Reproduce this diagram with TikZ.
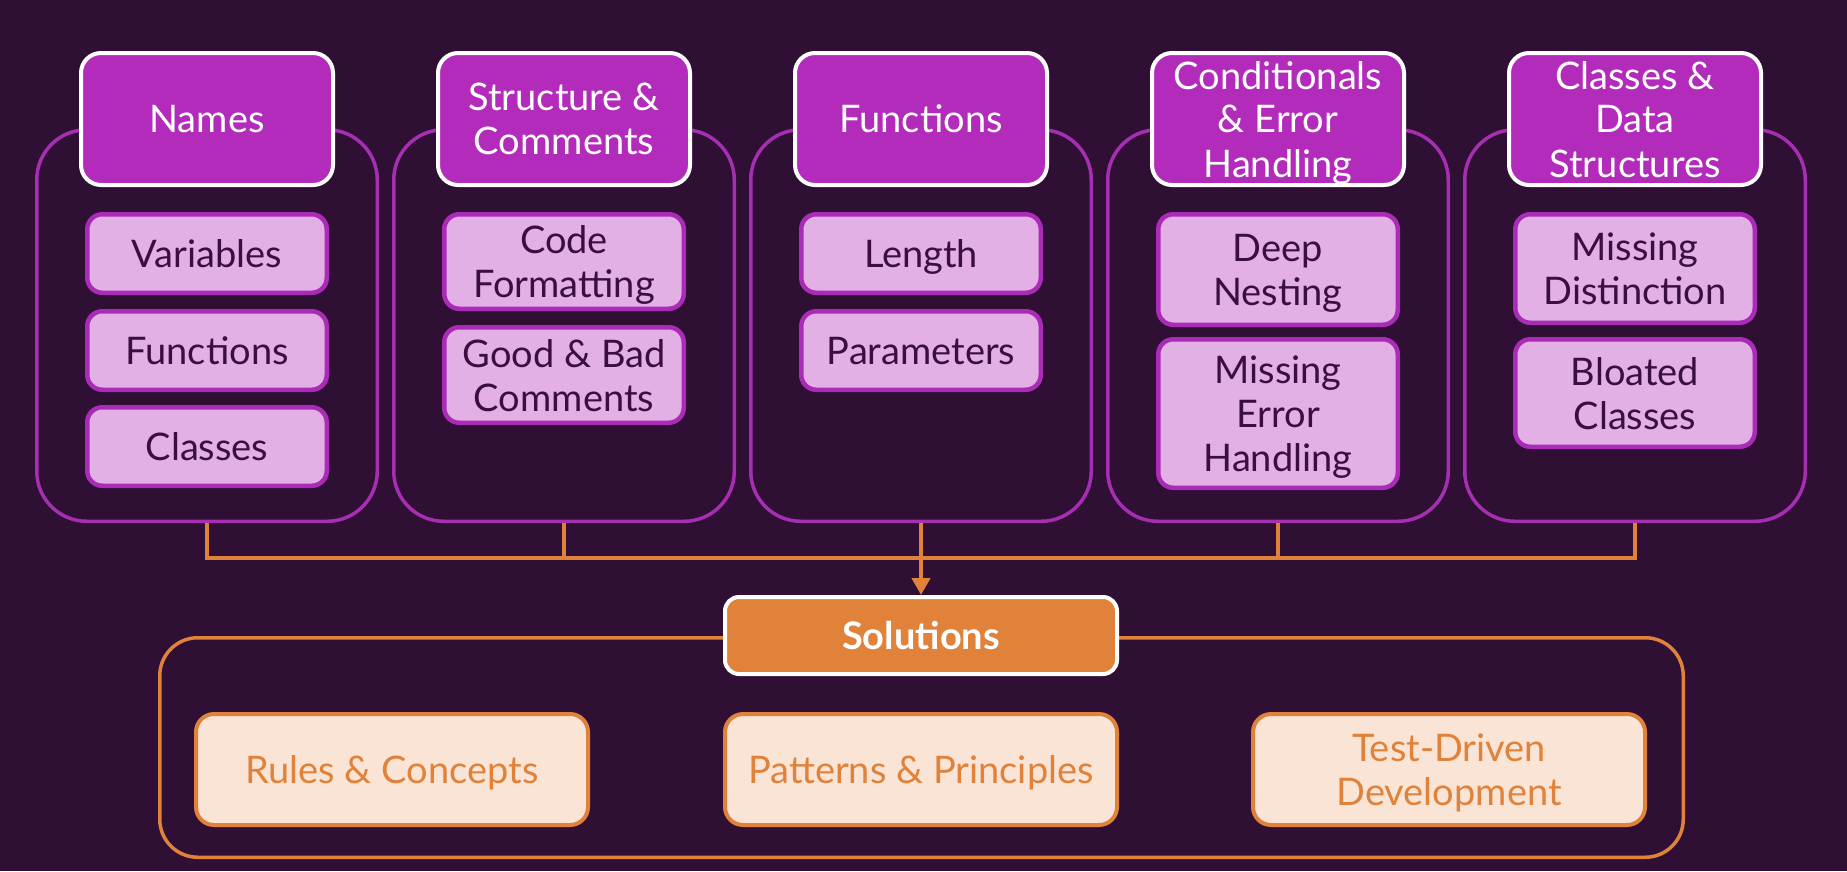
\documentclass[tikz,border=0pt]{standalone}
\usepackage{fontspec}
\setmainfont{Lato}
\usetikzlibrary{arrows.meta}

\definecolor{bg}{HTML}{2F0F34}
\definecolor{hdrfill}{HTML}{B22BBA}
\definecolor{grpline}{HTML}{A52EB3}
\definecolor{itemfill}{HTML}{E2B0E4}
\definecolor{itemline}{HTML}{A92BB8}
\definecolor{itemtext}{HTML}{3A0E40}
\definecolor{accent}{HTML}{E0823A}
\definecolor{softfill}{HTML}{FAE4D6}

\tikzset{
  lbl/.style={font=\fontsize{38}{44}\selectfont, align=center, inner sep=0pt, text depth=0pt},
  grp/.style={draw=grpline, line width=3.5pt, fill=bg, rounded corners=50pt,
    minimum width=340.5pt, minimum height=391.5pt, inner sep=0pt},
  hdr/.style={lbl, fill=hdrfill, draw=white, line width=4pt, rounded corners=20pt,
    minimum width=252pt, minimum height=132pt, text=white},
  item/.style={lbl, fill=itemfill, draw=itemline, line width=4.5pt, rounded corners=15pt,
    minimum width=239.5pt, text=itemtext},
  bus/.style={draw=accent, line width=4.5pt},
  solframe/.style={draw=accent, line width=3.5pt, fill=bg, rounded corners=38pt,
    minimum width=1523.5pt, minimum height=219.5pt, inner sep=0pt},
  solhead/.style={lbl, fill=accent, draw=white, line width=4pt, rounded corners=14pt,
    minimum width=392pt, minimum height=77pt, text=white, font=\fontsize{38}{44}\selectfont\bfseries},
  soft/.style={lbl, fill=softfill, draw=accent, line width=4pt, rounded corners=18pt,
    minimum width=392pt, minimum height=111pt, text=accent},
}

\begin{document}
\begin{tikzpicture}[x=1pt, y=-1pt]
  \useasboundingbox (0,0) rectangle (1847,871);
  \fill[bg] (0,0) rectangle (1847,871);

  % group frames
  \node[grp] (g1) at (207,325.5) {};
  \node[grp] (g2) at (564,325.5) {};
  \node[grp] (g3) at (921,325.5) {};
  \node[grp] (g4) at (1278,325.5) {};
  \node[grp] (g5) at (1635,325.5) {};

  % group headers
  \node[hdr] (h1) at (207,119) {Names};
  \node[hdr] (h2) at (564,119) {Structure \&\\Comments};
  \node[hdr] (h3) at (921,119) {Functions};
  \node[hdr] (h4) at (1278,119) {Conditionals\\\& Error\\Handling};
  \node[hdr] (h5) at (1635,119) {Classes \&\\Data\\Structures};

  % Names
  \node[item, minimum height=78.5pt] (n1) at (207,253.5) {Variables};
  \node[item, minimum height=78.5pt] (n2) at (207,350.5) {Functions};
  \node[item, minimum height=78.5pt] (n3) at (207,446.5) {Classes};

  % Structure & Comments
  \node[item, minimum height=94.5pt] (s1) at (564,261.5) {Code\\Formatting};
  \node[item, minimum height=95.5pt] (s2) at (564,375) {Good \& Bad\\Comments};

  % Functions
  \node[item, minimum height=78.5pt] (f1) at (921,253.5) {Length};
  \node[item, minimum height=78.5pt] (f2) at (921,350.5) {Parameters};

  % Conditionals & Error Handling
  \node[item, minimum height=110.5pt] (c1) at (1278,269.5) {Deep\\Nesting};
  \node[item, minimum height=148.5pt] (c2) at (1278,413.5) {Missing\\Error\\Handling};

  % Classes & Data Structures
  \node[item, minimum height=108.5pt] (d1) at (1635,268.5) {Missing\\Distinction};
  \node[item, minimum height=107.5pt] (d2) at (1635,393) {Bloated\\Classes};

  % solutions frame and boxes
  \node[solframe] (sf) at (921.5,747.5) {};
  \node[solhead] (sol) at (921,635.5) {Solutions};
  \node[soft] (r1) at (392,769.5) {Rules \& Concepts};
  \node[soft] (r2) at (921,769.5) {Patterns \& Principles};
  \node[soft] (r3) at (1449,769.5) {Test-Driven\\Development};

  % collecting bus
  \coordinate (busy) at (0,558);
  \draw[bus] (g1.south) -- (g1.south |- busy) -- (g5.south |- busy) -- (g5.south);
  \draw[bus] (g2.south) -- (g2.south |- busy);
  \draw[bus] (g4.south) -- (g4.south |- busy);
  \draw[bus, -{Triangle[width=18pt,length=17pt]}] (g3.south) -- (sol.north);
\end{tikzpicture}
\end{document}
